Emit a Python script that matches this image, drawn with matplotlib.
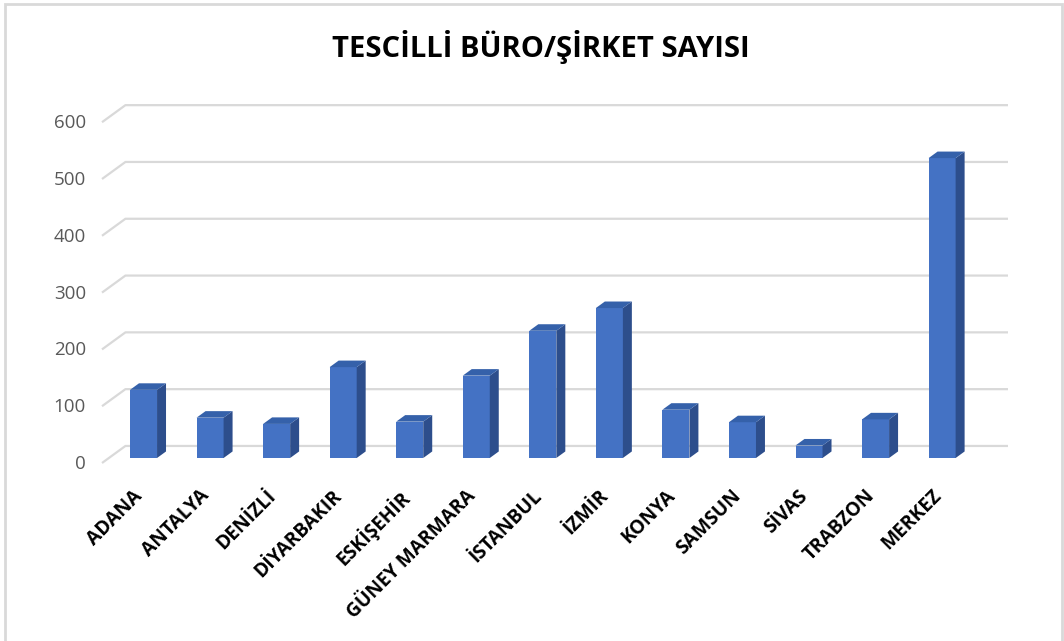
import matplotlib.pyplot as plt
from matplotlib.patches import Polygon, Rectangle
from matplotlib.transforms import ScaledTranslation

# data
categories = ['ADANA', 'ANTALYA', 'DENİZLİ', 'DİYARBAKIR', 'ESKİŞEHİR', 'GÜNEY MARMARA',
              'İSTANBUL', 'İZMİR', 'KONYA', 'SAMSUN', 'SİVAS', 'TRABZON', 'MERKEZ']
values = [120, 71, 60, 160, 64, 145, 224, 264, 85, 63, 22, 68, 528]
y_ticks = [0, 100, 200, 300, 400, 500, 600]
title = 'TESCİLLİ BÜRO/ŞİRKET SAYISI'

plt.rcParams['font.family'] = ['Open Sans', 'DejaVu Sans']

fig = plt.figure(figsize=(10.64, 6.41), dpi=100)
ax = fig.add_axes([102 / 1064, 178 / 641, (1008 - 102) / 1064, 360 / 641])
x0, x1 = -0.624, 12.99
ax.set_xlim(x0, x1)
ax.set_ylim(0, 360 / 0.568)
ax.axis('off')

# fake 3d offsets (floor depth and bar depth)
fdx, fdy = 0.352, 30
bdx, bdy = 0.135, 11.5
base = 8.8  # bars stand a little into the floor
w = 0.406

# gridlines on the back wall with the angled floor part
for v in y_ticks:
    ax.plot([x0, x0 + fdx, x1], [v, v + fdy, v + fdy], color='#d9d9d9', lw=1.6,
            zorder=1, clip_on=False, solid_capstyle='butt')
    off = ScaledTranslation(-16 / 100, -1 / 100, fig.dpi_scale_trans)
    ax.text(x0, v, str(v), ha='right', va='center', fontsize=13.5, color='#595959',
            transform=ax.transData + off)

xs = list(range(len(categories)))
ax.bar(xs, values, width=w, bottom=base, color='#4472C4', zorder=3)
for x, v in zip(xs, values):
    b, t = base, base + v
    side = [(x + w / 2, b), (x + w / 2 + bdx, b + bdy), (x + w / 2 + bdx, t + bdy), (x + w / 2, t)]
    top = [(x - w / 2, t), (x - w / 2 + bdx, t + bdy), (x + w / 2 + bdx, t + bdy), (x + w / 2, t)]
    ax.add_patch(Polygon(side, closed=True, color='#2D4E8C', zorder=3, lw=0))
    ax.add_patch(Polygon(top, closed=True, color='#3561AA', zorder=3, lw=0))

# rotated category labels
lab_off = ScaledTranslation(-11 / 100, -23 / 100, fig.dpi_scale_trans)
for x, name in zip(xs, categories):
    ax.text(x, 0, name, rotation=45, ha='right', va='top', rotation_mode='anchor',
            fontsize=13.8, fontweight='bold', color='black',
            transform=ax.transData + lab_off)

fig.text(541 / 1064, 1 - 47 / 641, title, ha='center', va='center',
         fontsize=21, fontweight='bold', color='black')

# chart border
fig.patches.append(Rectangle((5 / 1064, -0.02), (1062 - 5) / 1064, 1.02 - 4 / 641,
                             transform=fig.transFigure, fill=False,
                             ec='#d9d9d9', lw=2))

fig.savefig('out.png', dpi=100)
